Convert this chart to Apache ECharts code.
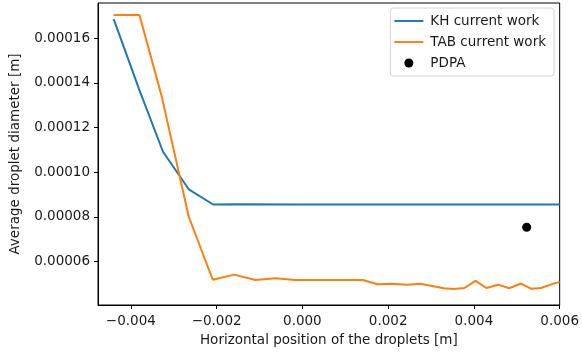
<!DOCTYPE html>
<html>
<head>
<meta charset="utf-8">
<script src="https://cdn.jsdelivr.net/npm/echarts@6/dist/echarts.min.js"></script>
<style>
  html, body { margin: 0; padding: 0; background: #fff; }
  #chart { width: 582px; height: 356px; }
</style>
</head>
<body>
<div id="chart"></div>
<script>
// KH current work
const khX = [-0.0044, -0.0038, -0.00325, -0.00265, -0.00208, -0.0015, 0.0, 0.002, 0.004, 0.006]
const khY = [0.0001686, 0.0001368, 0.0001092, 0.0000924, 0.0000856, 0.0000857, 0.0000856, 0.0000856, 0.0000856, 0.0000856]
// TAB current work
const tabX = [-0.0044, -0.0038, -0.00328, -0.00265, -0.00209, -0.00159, -0.00109, -0.00063, -0.00017, 0.00141,
  0.00175, 0.00206, 0.00245, 0.00275, 0.0033, 0.00353, 0.00378, 0.00404, 0.00429, 0.00457,
  0.00482, 0.0051, 0.00533, 0.00556, 0.00591, 0.006]
const tabY = [0.0001704, 0.0001704, 0.000134, 0.0000801, 0.0000519, 0.0000542, 0.0000518, 0.0000526, 0.0000518, 0.0000518,
  0.0000499, 0.0000501, 0.0000497, 0.0000501, 0.0000481, 0.0000478, 0.0000482, 0.0000514, 0.0000482, 0.0000497,
  0.0000481, 0.0000502, 0.0000479, 0.0000482, 0.0000505, 0.0000508]
// PDPA measurement
const pdpaX = [0.00523]
const pdpaY = [0.0000754]

const xTicks = [-0.004, -0.002, 0, 0.002, 0.004, 0.006]
const yTicks = [0.00006, 0.00008, 0.0001, 0.00012, 0.00014, 0.00016]

const zip = (xs, ys) => xs.map((x, i) => [x, ys[i]])
const font = 'DejaVu Sans'
const txt = '#1a1a1a'
const fs = 13.5
// plain horizontal bar used as the legend icon of the line series
const lineIcon = 'path://M0,0H30V2H0Z'

const chart = echarts.init(document.getElementById('chart'))
const option = {
  animation: false,
  textStyle: { fontFamily: font },
  grid: {
    left: 97,
    right: 21,
    top: 3,
    bottom: 51,
    show: true,
    borderColor: '#000',
    borderWidth: 1
  },
  legend: {
    orient: 'vertical',
    right: 28,
    top: 8,
    padding: [6, 8, 6, 4],
    itemWidth: 29,
    itemHeight: 9,
    itemGap: 7,
    backgroundColor: '#fff',
    borderColor: '#d4d4d4',
    borderWidth: 1,
    borderRadius: 3,
    textStyle: { fontFamily: font, fontSize: fs, lineHeight: 14, color: txt, padding: [0, 0, 0, 2] },
    data: [
      { name: 'KH current work', icon: lineIcon },
      { name: 'TAB current work', icon: lineIcon },
      { name: 'PDPA', icon: 'circle' }
    ]
  },
  xAxis: {
    type: 'value',
    min: -0.004766,
    max: 0.006,
    name: 'Horizontal position of the droplets [m]',
    nameLocation: 'middle',
    nameGap: 28,
    nameTextStyle: { fontFamily: font, fontSize: fs, color: txt },
    splitLine: { show: false },
    axisLine: { onZero: false, lineStyle: { color: '#000', width: 1 } },
    axisTick: { length: 4, customValues: xTicks, lineStyle: { color: '#000' } },
    axisLabel: {
      customValues: xTicks,
      margin: 9,
      fontFamily: font,
      fontSize: fs,
      color: txt,
      formatter: v => (v < 0 ? '\u2212' : '') + Math.abs(v).toFixed(3)
    }
  },
  yAxis: {
    type: 'value',
    min: 0.0000406,
    max: 0.0001758,
    name: 'Average droplet diameter [m]',
    nameLocation: 'middle',
    nameGap: 76,
    nameTextStyle: { fontFamily: font, fontSize: fs, color: txt },
    splitLine: { show: false },
    axisLine: { show: true, onZero: false, lineStyle: { color: '#000', width: 1 } },
    axisTick: { show: true, length: 4, customValues: yTicks, lineStyle: { color: '#000' } },
    axisLabel: {
      customValues: yTicks,
      margin: 8,
      fontFamily: font,
      fontSize: fs,
      color: txt,
      formatter: v => v.toFixed(5)
    }
  },
  series: [
    {
      name: 'KH current work',
      type: 'line',
      symbol: 'none',
      data: zip(khX, khY),
      lineStyle: { color: '#1f77b4', width: 2 },
      itemStyle: { color: '#1f77b4' }
    },
    {
      name: 'TAB current work',
      type: 'line',
      symbol: 'none',
      data: zip(tabX, tabY),
      lineStyle: { color: '#ff7f0e', width: 2 },
      itemStyle: { color: '#ff7f0e' }
    },
    {
      name: 'PDPA',
      type: 'scatter',
      symbol: 'circle',
      symbolSize: 9,
      data: zip(pdpaX, pdpaY),
      itemStyle: { color: '#000', opacity: 1 }
    }
  ]
}
chart.setOption(option)
</script>
</body>
</html>
